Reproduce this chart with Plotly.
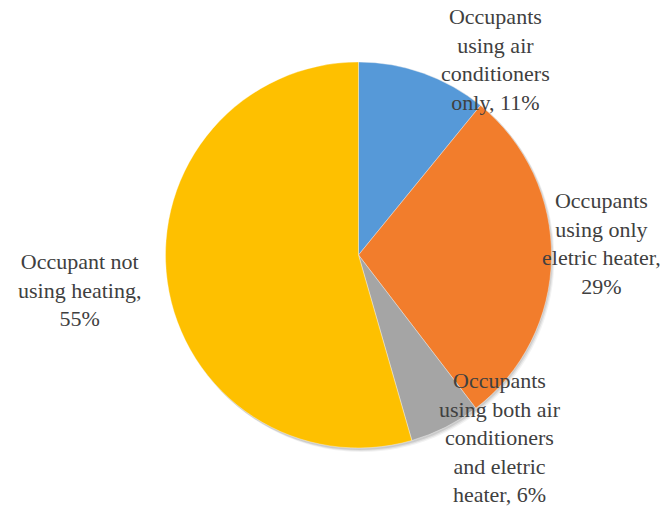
import plotly.graph_objects as go

# Share of occupants by heating / cooling appliance use
categories = [
    "Occupants<br>using air<br>conditioners<br>only",
    "Occupants<br>using only<br>eletric heater",
    "Occupants<br>using both air<br>conditioners<br>and eletric<br>heater",
    "Occupant not<br>using heating",
]
values = [11, 29, 6, 55]
colors = ["#5699D8", "#F27D2C", "#A5A5A5", "#FEC000"]

# separator between category name and percentage in each callout
separators = [", ", ",<br>", ", ", ",<br>"]
# label anchor points (paper px) for each slice's callout text
label_pos = [(495, 59), (601, 243), (500, 437), (79, 290)]

W, H = 667, 506
cx, cy, r = 358.5, 255, 193

fig = go.Figure()
fig.add_trace(go.Pie(
    values=values,
    labels=[c.replace("<br>", " ") for c in categories],
    marker=dict(colors=colors, line=dict(color="rgba(255,255,255,0.6)", width=0.6)),
    sort=False,
    direction="clockwise",
    rotation=0,
    textinfo="none",
    hoverinfo="label+value",
    showlegend=False,
    domain=dict(x=[(cx - r) / W, (cx + r) / W], y=[1 - (cy + r) / H, 1 - (cy - r) / H]),
))

# soft drop shadow behind the pie
for i, a in enumerate([0.05, 0.07, 0.09]):
    off = 3 - i
    fig.add_shape(
        type="circle", xref="paper", yref="paper", layer="below",
        x0=(cx - r + off) / W, x1=(cx + r + off) / W,
        y0=1 - (cy + r + off + 1) / H, y1=1 - (cy - r + off - 1) / H,
        fillcolor=f"rgba(0,0,0,{a})", line=dict(width=0),
    )

for cat, val, sep, (lx, ly) in zip(categories, values, separators, label_pos):
    fig.add_annotation(
        x=lx / W, y=1 - ly / H, xref="paper", yref="paper",
        text=f"{cat}{sep}{val}%", showarrow=False,
        xanchor="center", yanchor="middle", align="center",
        font=dict(family="Liberation Serif", size=22, color="#404040"),
    )

fig.update_layout(
    width=W, height=H,
    margin=dict(l=0, r=0, t=0, b=0),
    paper_bgcolor="white", plot_bgcolor="white",
)

fig.write_html("out.html")
